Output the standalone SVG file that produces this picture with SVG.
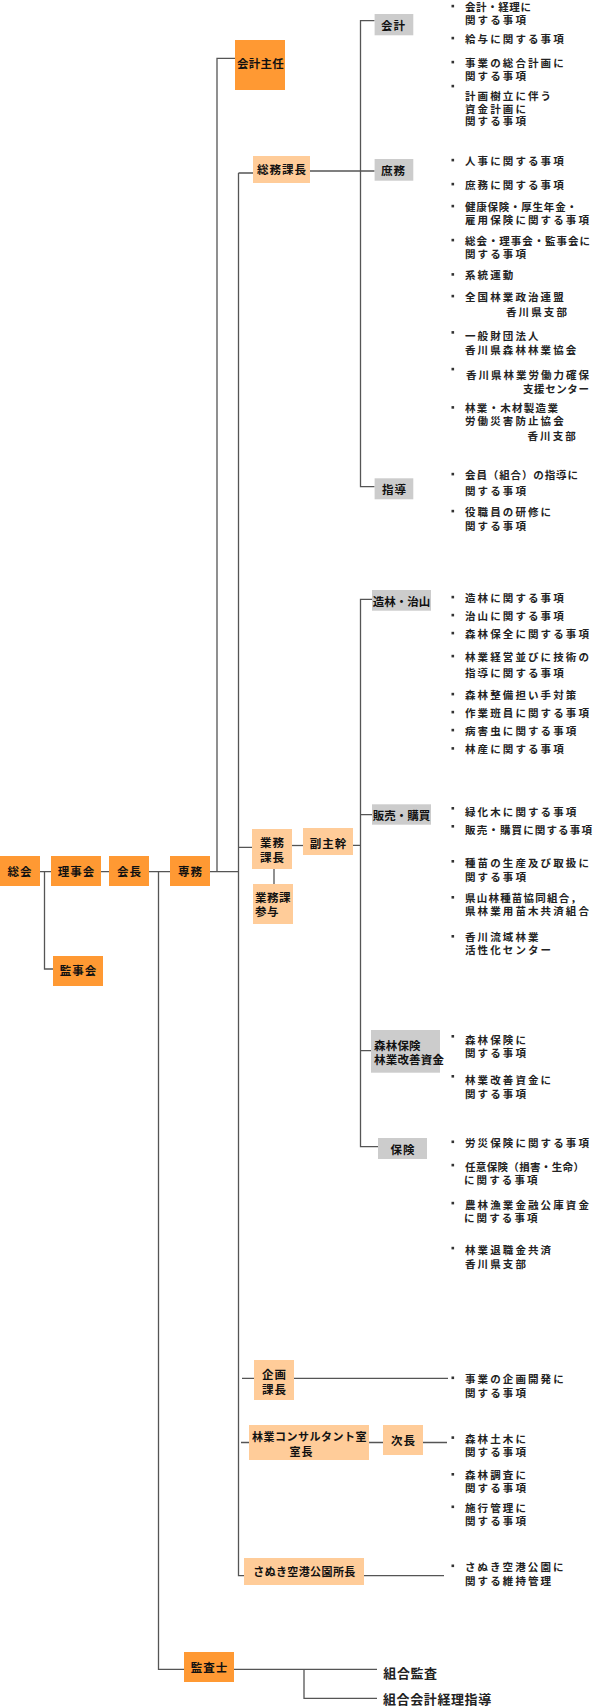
<svg xmlns="http://www.w3.org/2000/svg" width="595" height="1706" viewBox="0 0 595 1706">
<style>
.c{fill:none;stroke:#555;stroke-width:1.3}
.o{fill:#FF9933}
.l{fill:#FFCC99}
.g{fill:#CCCCCC}
.n{font-family:"Noto Sans CJK JP","Noto Sans",sans-serif;font-size:11.5px;font-weight:700;fill:#111;text-anchor:middle;dominant-baseline:central;letter-spacing:1px}
.nl{text-anchor:start}
.t{font-family:"Noto Sans CJK JP","Noto Sans",sans-serif;font-size:10.5px;font-weight:700;fill:#222;dominant-baseline:central;letter-spacing:2.1px}
.b{fill:#333}
.k{font-family:"Noto Sans CJK JP","Noto Sans",sans-serif;font-size:13px;font-weight:700;fill:#222;dominant-baseline:central;letter-spacing:0.6px}
</style>
<defs><rect id="bu" width="2.6" height="2.6" class="b"/></defs>
<g id="connectors">
<path class="c" d="M40 871.7H239"/>
<path class="c" d="M44.5 871.7V969H53"/>
<path class="c" d="M158.5 871.7V1669.3H184"/>
<path class="c" d="M217 871.7V58.3H235"/>
<path class="c" d="M238.5 173V1575.7H244M238.5 173H253M238.5 847.3H252"/>
<path class="c" d="M242 1378.3H254M294 1378.3H448"/>
<path class="c" d="M241 1442.5H249M369 1442.5H383M423 1442.5H447"/>
<path class="c" d="M364 1575.7H444"/>
<path class="c" d="M310 171H374.6"/>
<path class="c" d="M374.6 20.7H360.5V486.7H374.6"/>
<path class="c" d="M372 599.3H360.5V1146.7H378M360.5 814.7H372M360.5 1050.7H371M353 845.3H360.5"/>
<path class="c" d="M292 845.5H303"/>
<path class="c" d="M274 869V884"/>
<path class="c" d="M234 1669.3H377M304 1669.3V1698.3H377"/>
</g>
<g id="n-soukai"><rect class="o" x="0" y="856" width="40" height="30"/><text class="n" x="20" y="871">総会</text></g>
<g id="n-rijikai"><rect class="o" x="51" y="856" width="50" height="30"/><text class="n" x="76.5" y="871">理事会</text></g>
<g id="n-kaicho"><rect class="o" x="109" y="856" width="40" height="30"/><text class="n" x="129.5" y="871">会長</text></g>
<g id="n-senmu"><rect class="o" x="170" y="856" width="40" height="30"/><text class="n" x="190.5" y="871">専務</text></g>
<g id="n-kanjikai"><rect class="o" x="53" y="956" width="50" height="30"/><text class="n" x="78.5" y="970">監事会</text></g>
<g id="n-kaikeishunin"><rect class="o" x="235" y="40" width="50" height="50"/><text class="n" x="260.5" y="63" style="letter-spacing:0.3px">会計主任</text></g>
<g id="n-kansashi"><rect class="o" x="184" y="1652" width="50" height="30"/><text class="n" x="209.5" y="1667">監査士</text></g>
<g id="n-somukacho"><rect class="l" x="253" y="156" width="57" height="27"/><text class="n" x="282" y="169">総務課長</text></g>
<g id="n-gyomukacho"><rect class="l" x="252" y="829" width="40" height="40"/><text class="n" x="272.5" y="841.7">業務</text><text class="n" x="272.5" y="856.7">課長</text></g>
<g id="n-fukushukan"><rect class="l" x="303" y="828" width="50" height="27"/><text class="n" x="328.5" y="843">副主幹</text></g>
<g id="n-sanyo"><rect class="l" x="253" y="884" width="40" height="40"/><text class="n nl" x="255" y="897.3" style="letter-spacing:0.5px">業務課</text><text class="n nl" x="255" y="910.7" style="letter-spacing:0.5px">参与</text></g>
<g id="n-kikaku"><rect class="l" x="254" y="1360" width="40" height="40"/><text class="n" x="274.5" y="1374">企画</text><text class="n" x="274.5" y="1388.7">課長</text></g>
<g id="n-consul"><rect class="l" x="249" y="1425" width="120" height="35"/><text class="n" x="309.5" y="1436" style="font-size:11px;letter-spacing:0.5px">林業コンサルタント室</text><text class="n" x="301.5" y="1450.7" style="font-size:11px">室長</text></g>
<g id="n-jicho"><rect class="l" x="383" y="1425" width="40" height="30"/><text class="n" x="403.5" y="1440">次長</text></g>
<g id="n-sanuki"><rect class="l" x="244" y="1558" width="120" height="27"/><text class="n" x="304.5" y="1571" style="font-size:11px;letter-spacing:0.4px">さぬき空港公園所長</text></g>
<g id="n-kaikei"><rect class="g" x="374.6" y="14" width="38.7" height="21.3"/><text class="n" x="393.5" y="24.5">会計</text></g>
<g id="n-shomu"><rect class="g" x="374.6" y="159" width="38.7" height="21.7"/><text class="n" x="393.5" y="169.5">庶務</text></g>
<g id="n-shido"><rect class="g" x="374.6" y="478.3" width="38.7" height="21"/><text class="n" x="394.5" y="488.5">指導</text></g>
<g id="n-zorin"><rect class="g" x="372" y="590" width="59" height="20.7"/><text class="n" x="401.5" y="600.5" style="letter-spacing:0">造林・治山</text></g>
<g id="n-hanbai"><rect class="g" x="372" y="804.3" width="59" height="20.4"/><text class="n" x="401.5" y="814.7" style="letter-spacing:0">販売・購買</text></g>
<g id="n-shinrinhoken"><rect class="g" x="371" y="1030" width="69" height="42.7"/><text class="n nl" x="374" y="1045" style="letter-spacing:0.2px">森林保険</text><text class="n nl" x="374" y="1058.7" style="letter-spacing:0.2px">林業改善資金</text></g>
<g id="n-hoken"><rect class="g" x="378" y="1138" width="49" height="21"/><text class="n" x="403" y="1149">保険</text></g>
<g id="items">
<use href="#bu" x="451.5" y="4.8"/><text class="t" x="465" y="6" textLength="68">会計・経理に</text><text class="t" x="465" y="19">関する事項</text>
<use href="#bu" x="451.5" y="36.8"/><text class="t" x="465" y="38">給与に関する事項</text>
<use href="#bu" x="451.5" y="60.8"/><text class="t" x="465" y="62">事業の総合計画に</text><text class="t" x="465" y="75.3">関する事項</text>
<use href="#bu" x="451.5" y="84.8"/><text class="t" x="465" y="95.3">計画樹立に伴う</text><text class="t" x="465" y="108">資金計画に</text><text class="t" x="465" y="120.7">関する事項</text>
<use href="#bu" x="451.5" y="158.8"/><text class="t" x="465" y="160">人事に関する事項</text>
<use href="#bu" x="451.5" y="182.8"/><text class="t" x="465" y="184">庶務に関する事項</text>
<use href="#bu" x="451.5" y="204.8"/><text class="t" x="465" y="206" textLength="114">健康保険・厚生年金・</text><text class="t" x="465" y="219">雇用保険に関する事項</text>
<use href="#bu" x="451.5" y="238.8"/><text class="t" x="465" y="240" textLength="127">総会・理事会・監事会に</text><text class="t" x="465" y="253">関する事項</text>
<use href="#bu" x="451.5" y="273.1"/><text class="t" x="465" y="274.3">系統運動</text>
<use href="#bu" x="451.5" y="294.8"/><text class="t" x="465" y="296">全国林業政治連盟</text><text class="t" x="506" y="311.3">香川県支部</text>
<use href="#bu" x="451.5" y="331.1"/><text class="t" x="465" y="335">一般財団法人</text><text class="t" x="465" y="349.3">香川県森林林業協会</text>
<use href="#bu" x="451.5" y="367.8"/><text class="t" x="466" y="374" textLength="125">香川県林業労働力確保</text><text class="t" x="523" y="388.3" textLength="68">支援センター</text>
<use href="#bu" x="451.5" y="406.1"/><text class="t" x="465" y="407.3" textLength="95">林業・木材製造業</text><text class="t" x="465" y="420.7">労働災害防止協会</text><text class="t" x="527.5" y="435">香川支部</text>
<use href="#bu" x="451.5" y="472.8"/><text class="t" x="465" y="474" textLength="115">会員（組合）の指導に</text><text class="t" x="465" y="490">関する事項</text>
<use href="#bu" x="451.5" y="509.8"/><text class="t" x="465" y="511">役職員の研修に</text><text class="t" x="465" y="525">関する事項</text>
<use href="#bu" x="451.5" y="595.8"/><text class="t" x="465" y="597">造林に関する事項</text>
<use href="#bu" x="451.5" y="613.8"/><text class="t" x="465" y="615">治山に関する事項</text>
<use href="#bu" x="451.5" y="631.8"/><text class="t" x="465" y="633">森林保全に関する事項</text>
<use href="#bu" x="451.5" y="654.8"/><text class="t" x="465" y="656">林業経営並びに技術の</text><text class="t" x="465" y="672">指導に関する事項</text>
<use href="#bu" x="451.5" y="692.8"/><text class="t" x="465" y="694">森林整備担い手対策</text>
<use href="#bu" x="451.5" y="710.8"/><text class="t" x="465" y="712">作業班員に関する事項</text>
<use href="#bu" x="451.5" y="728.8"/><text class="t" x="465" y="730">病害虫に関する事項</text>
<use href="#bu" x="451.5" y="747.1"/><text class="t" x="465" y="748.3">林産に関する事項</text>
<use href="#bu" x="451.5" y="807"/><text class="t" x="465" y="811.7">緑化木に関する事項</text>
<use href="#bu" x="451.5" y="825"/><text class="t" x="465" y="829.3" textLength="129">販売・購買に関する事項</text>
<use href="#bu" x="451.5" y="860"/><text class="t" x="465" y="862.7">種苗の生産及び取扱に</text><text class="t" x="465" y="876">関する事項</text>
<use href="#bu" x="451.5" y="896"/><text class="t" x="465" y="897.3" textLength="118">県山林種苗協同組合，</text><text class="t" x="465" y="910">県林業用苗木共済組合</text>
<use href="#bu" x="451.5" y="935"/><text class="t" x="465" y="936.3">香川流域林業</text><text class="t" x="465" y="949.3">活性化センター</text>
<use href="#bu" x="451.5" y="1035"/><text class="t" x="465" y="1039.3">森林保険に</text><text class="t" x="465" y="1052.7">関する事項</text>
<use href="#bu" x="451.5" y="1075"/><text class="t" x="465" y="1079">林業改善資金に</text><text class="t" x="465" y="1093">関する事項</text>
<use href="#bu" x="451.5" y="1140.5"/><text class="t" x="465" y="1142.7">労災保険に関する事項</text>
<use href="#bu" x="451.5" y="1163.8"/><text class="t" x="465" y="1166" textLength="121">任意保険（損害・生命）</text><text class="t" x="464" y="1179">に関する事項</text>
<use href="#bu" x="451.5" y="1201.8"/><text class="t" x="465" y="1204">農林漁業金融公庫資金</text><text class="t" x="464" y="1217">に関する事項</text>
<use href="#bu" x="451.5" y="1246.8"/><text class="t" x="465" y="1249">林業退職金共済</text><text class="t" x="465" y="1263.3">香川県支部</text>
<use href="#bu" x="451.5" y="1376.5"/><text class="t" x="465" y="1378.3">事業の企画開発に</text><text class="t" x="465" y="1392.7">関する事項</text>
<use href="#bu" x="451.5" y="1436.3"/><text class="t" x="465" y="1438">森林土木に</text><text class="t" x="465" y="1451.7">関する事項</text>
<use href="#bu" x="451.5" y="1473"/><text class="t" x="465" y="1474.3">森林調査に</text><text class="t" x="465" y="1487.7">関する事項</text>
<use href="#bu" x="451.5" y="1505.5"/><text class="t" x="465" y="1507">施行管理に</text><text class="t" x="465" y="1520.7">関する事項</text>
<use href="#bu" x="451.5" y="1564.5"/><text class="t" x="465" y="1566">さぬき空港公園に</text><text class="t" x="465" y="1580">関する維持管理</text>
<text class="k" x="383.3" y="1672.3">組合監査</text>
<text class="k" x="383" y="1698.5">組合会計経理指導</text>
</g>
</svg>
